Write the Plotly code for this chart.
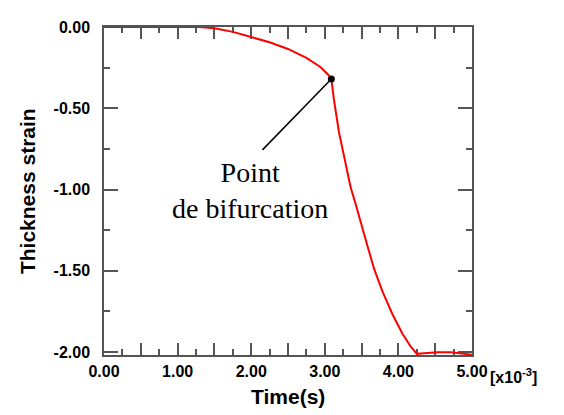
import plotly.graph_objects as go

# Time in units of 1e-3 s
time_ms = [0.0, 0.5, 1.0, 1.3, 1.5, 1.75, 2.0, 2.25, 2.5, 2.75, 2.94, 3.05, 3.089,
           3.124, 3.192, 3.283, 3.351, 3.42, 3.488, 3.579, 3.669, 3.783, 3.919,
           4.055, 4.169, 4.251, 4.35, 4.532, 4.714, 4.85, 4.986, 5.0]
strain = [0.0, 0.0, 0.0, 0.0, -0.008, -0.03, -0.062, -0.094, -0.135, -0.19, -0.246, -0.295, -0.320,
          -0.446, -0.646, -0.846, -0.986, -1.09, -1.206, -1.346, -1.487, -1.627, -1.767,
          -1.887, -1.967, -2.011, -2.007, -2.001, -2.001, -2.007, -2.015, -2.016]

bif_t = [3.089]
bif_strain = [-0.320]
label_end = [2.153, -0.756]

x_tickvals = [0, 0.5, 1, 1.5, 2, 2.5, 3, 3.5, 4, 4.5, 5]
x_ticktext = ["0.00", " ", "1.00", " ", "2.00", " ", "3.00", " ", "4.00", " ", "5.00"]
y_tickvals = [0, -0.5, -1.0, -1.5, -2.0]
y_ticktext = ["0.00", "-0.50", "-1.00", "-1.50", "-2.00"]

axis_color = "#555555"
tick_font = dict(family="Liberation Sans, Arial, sans-serif", size=16, color="black", weight="bold")

fig = go.Figure()
fig.add_trace(go.Scatter(x=time_ms, y=strain, mode="lines",
                         line=dict(color="#ff0000", width=2), showlegend=False))
fig.add_trace(go.Scatter(x=bif_t, y=bif_strain, mode="markers",
                         marker=dict(color="black", size=7), showlegend=False, cliponaxis=False))

# page body has an 8px margin, so the figure is drawn 8px smaller and shifted
fig.update_layout(
    width=556, height=407,
    margin=dict(l=96, r=92, t=11, b=60),
    paper_bgcolor="white", plot_bgcolor="white",
    xaxis=dict(range=[0, 5], tickmode="array", tickvals=x_tickvals, ticktext=x_ticktext,
               ticks="inside", ticklen=12, tickwidth=1.5, tickcolor=axis_color,
               showline=True, linecolor=axis_color, linewidth=1.5, mirror="ticks",
               showgrid=False, zeroline=False, tickfont=tick_font, ticklabelstandoff=1,
               layer="below traces",
               minor=dict(dtick=0.25, tick0=0, ticks="inside", ticklen=6, tickwidth=1.5,
                          tickcolor=axis_color, showgrid=False)),
    yaxis=dict(range=[-2.018, 0], tickmode="array", tickvals=y_tickvals, ticktext=y_ticktext,
               ticks="inside", ticklen=14, tickwidth=1.5, tickcolor=axis_color,
               showline=True, linecolor=axis_color, linewidth=1.5, mirror="ticks",
               showgrid=False, zeroline=False, tickfont=tick_font, ticklabelstandoff=9,
               layer="below traces",
               minor=dict(dtick=0.25, tick0=0, ticks="inside", ticklen=6, tickwidth=1.5,
                          tickcolor=axis_color, showgrid=False)),
)

title_font = dict(family="Liberation Sans, Arial, sans-serif", size=21, color="black", weight="bold")
fig.add_annotation(text="Time(s)", xref="paper", yref="paper", x=0.5, y=-0.128,
                   xanchor="center", yanchor="middle", showarrow=False, font=title_font)
fig.add_annotation(text="Thickness strain", xref="paper", yref="paper", x=-0.209, y=0.5,
                   xanchor="center", yanchor="middle", textangle=-90, showarrow=False, font=title_font)
fig.add_annotation(text="[x10<sup>-3</sup>]", xref="paper", yref="paper", x=1.043, y=-0.065,
                   xanchor="left", yanchor="middle", showarrow=False, font=tick_font)

fig.add_annotation(text="Point<br>de bifurcation", x=1.99, y=-1.003, xref="x", yref="y",
                   showarrow=False, align="center",
                   font=dict(family="Liberation Serif, Times New Roman, serif", size=28, color="black"))
fig.add_shape(type="line", xref="x", yref="y", x0=bif_t[0], y0=bif_strain[0],
              x1=label_end[0], y1=label_end[1], line=dict(color="black", width=1.5))

fig.write_html("out.html")
